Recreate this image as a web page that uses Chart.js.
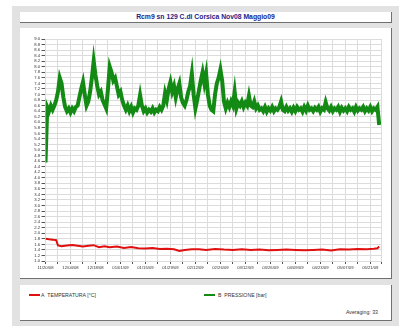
<!DOCTYPE html>
<html>
<head>
<meta charset="utf-8">
<script src="https://cdn.jsdelivr.net/npm/chart.js@4"></script>
<style>
  body { margin: 0; background: #fff; font-family: "Liberation Sans", Arial, sans-serif; }
  .outer { position: absolute; left: 12px; top: 6px; width: 387px; height: 320px; background: #e2e2e2; }
  .box { position: absolute; background: #fff; border-right: 1px solid #707070; border-bottom: 1px solid #707070; box-sizing: border-box; }
  #title { left: 20px; top: 12px; width: 372px; height: 11px; text-align: center; font-weight: bold; font-size: 6.8px; line-height: 10px; color: #23238a; }
  #panel { left: 20px; top: 28px; width: 372px; height: 251px; }
  #legend { left: 20px; top: 285px; width: 372px; height: 36px; font-size: 5.2px; color: #333; }
  #chart { position: absolute; left: 0; top: 0; }
  .sw { position: absolute; height: 1.5px; width: 11px; }
  .lt { position: absolute; line-height: 5px; }
</style>
</head>
<body>
<div class="outer"></div>
<div class="box" id="title">Rcm9 sn 129 C.di Corsica Nov08 Maggio09</div>
<div class="box" id="panel"><canvas id="chart" width="372" height="251"></canvas></div>
<div class="box" id="legend">
  <div class="sw" style="left:9px;top:9px;background:#e01010"></div>
  <div class="lt" style="left:21px;top:7.5px">A&nbsp; TEMPERATURA [°C]</div>
  <div class="sw" style="left:184px;top:9px;background:#138a13"></div>
  <div class="lt" style="left:198px;top:7.5px">B&nbsp; PRESSIONE [bar]</div>
  <div class="lt" style="left:326px;top:25px">Averaging: 33</div>
</div>
<script>
// x axis: days since 11/20/08, labelled every two weeks
const xLabels = ['11/20/08', '12/04/08', '12/18/08', '01/01/09', '01/15/09', '01/29/09', '02/12/09',
  '02/26/09', '03/12/09', '03/26/09', '04/09/09', '04/23/09', '05/07/09', '05/21/09']
const xMax = 188

// B PRESSIONE [bar], one value per day (index = day)
const pressione = [
  4.55, 6.55, 6.4, 6.6, 6.45, 6.6, 6.8, 7.1, 7.6, 7.4,
  6.9, 6.55, 6.4, 6.5, 6.35, 6.5, 6.4, 6.55, 6.6, 6.9,
  7.2, 7.45, 7.0, 6.6, 6.75, 7.1, 7.6, 8.2, 7.7, 7.3,
  7.0, 7.1, 6.8, 6.65, 6.5, 7.2, 8.0, 7.8, 7.5, 7.6,
  7.3, 7.0, 7.1, 6.8, 6.6, 6.45, 6.6, 6.4, 6.55, 6.35,
  6.5, 6.45, 6.6, 6.98, 6.6, 6.4, 6.5, 6.35, 6.45, 6.38,
  6.5, 6.35, 6.45, 6.4, 6.55, 6.45, 6.6, 7.05, 6.8, 7.2,
  7.45, 7.1, 7.3, 6.9, 7.2, 7.4, 6.9, 6.7, 6.6, 6.8,
  7.1, 7.3, 7.75, 7.0, 6.5, 6.8, 7.15, 7.5, 7.8, 7.4,
  7.75, 7.0, 6.6, 6.45, 6.4, 7.0, 7.4, 7.6, 7.9, 7.5,
  6.75, 6.5, 6.7, 6.55, 6.75, 6.6, 7.1, 6.5, 6.7, 6.6,
  6.75, 6.55, 6.7, 6.6, 6.95, 6.6, 6.55, 6.75, 6.5, 6.6,
  6.45, 6.5, 6.4, 6.55, 6.38, 6.5, 6.42, 6.55, 6.4, 6.5,
  6.45, 6.55, 6.75, 6.45, 6.4, 6.55, 6.42, 6.5, 6.38, 6.52,
  6.4, 6.55, 6.45, 6.5, 6.38, 6.55, 6.42, 6.6, 6.45, 6.5,
  6.4, 6.52, 6.45, 6.55, 6.38, 6.5, 6.45, 6.72, 6.5, 6.42,
  6.55, 6.4, 6.5, 6.45, 6.55, 6.38, 6.52, 6.42, 6.5, 6.4,
  6.55, 6.45, 6.5, 6.38, 6.55, 6.42, 6.5, 6.45, 6.55, 6.4,
  6.5, 6.42, 6.55, 6.4, 6.5, 6.45, 6.55, 5.9
]

// A TEMPERATURA [°C]
const tempDays = [0, 2, 4, 6, 7, 9, 12, 15, 18, 21, 24, 27, 30, 33, 36, 40, 44, 48, 52, 56,
  60, 64, 68, 72, 75, 78, 82, 86, 90, 95, 100, 105, 110, 115, 120, 125, 130, 135, 140, 145,
  150, 155, 160, 165, 170, 175, 180, 184, 186, 187]
const temperatura = [1.8, 1.78, 1.77, 1.75, 1.56, 1.53, 1.56, 1.58, 1.55, 1.52, 1.55, 1.57, 1.5, 1.53, 1.5, 1.52, 1.47, 1.5, 1.46, 1.45,
  1.47, 1.43, 1.44, 1.42, 1.36, 1.4, 1.42, 1.42, 1.4, 1.43, 1.41, 1.4, 1.42, 1.4, 1.41, 1.39, 1.4, 1.41, 1.4, 1.39,
  1.4, 1.41, 1.38, 1.42, 1.41, 1.43, 1.42, 1.44, 1.46, 1.52]

const yMin = 1.0
const yMax = 9.0

const tickFont = { family: '"Liberation Sans", Arial, sans-serif', size: 4.2 }

new Chart(document.getElementById('chart'), {
  type: 'scatter',
  data: {
    datasets: [{
      label: 'B PRESSIONE [bar]',
      data: pressione.map((v, i) => ({ x: i, y: v })),
      borderColor: '#138a13',
      showLine: true,
      pointRadius: 0,
      borderWidth: 4,
      borderJoinStyle: 'miter',
      tension: 0
    }, {
      label: 'A TEMPERATURA [°C]',
      data: tempDays.map((d, i) => ({ x: d, y: temperatura[i] })),
      borderColor: '#e01010',
      showLine: true,
      pointRadius: 0,
      borderWidth: 2,
      tension: 0
    }]
  },
  options: {
    responsive: false,
    animation: false,
    devicePixelRatio: 1,
    layout: { padding: { top: 11, right: 11, left: 0, bottom: 0 } },
    plugins: { legend: { display: false }, title: { display: false }, tooltip: { enabled: false } },
    scales: {
      x: {
        type: 'linear',
        min: 0,
        max: xMax,
        afterFit: (scale) => { scale.height = 18 },
        afterBuildTicks: (scale) => {
          const t = []
          for (let d = 0; d <= 182; d += 7) t.push({ value: d })
          t.push({ value: xMax })
          scale.ticks = t
        },
        grid: { color: '#dcdcdc', tickColor: '#555', tickLength: 3 },
        border: { color: '#dcdcdc' },
        ticks: {
          font: tickFont,
          color: '#333',
          padding: 1,
          maxRotation: 0,
          autoSkip: false,
          callback: (v) => (v % 14 === 0 && v <= 182) ? xLabels[v / 14] : ''
        }
      },
      y: {
        type: 'linear',
        min: yMin,
        max: yMax,
        afterFit: (scale) => { scale.width = 25.5 },
        afterBuildTicks: (scale) => {
          const t = []
          for (let k = 10; k <= 90; k += 2) t.push({ value: k / 10 })
          scale.ticks = t
        },
        grid: { color: '#dcdcdc', tickColor: '#555', tickLength: 4 },
        border: { color: '#dcdcdc' },
        ticks: {
          font: tickFont,
          color: '#333',
          padding: 1.5,
          autoSkip: false,
          callback: (v) => Number(v).toFixed(1)
        }
      }
    }
  }
})
</script>
</body>
</html>
